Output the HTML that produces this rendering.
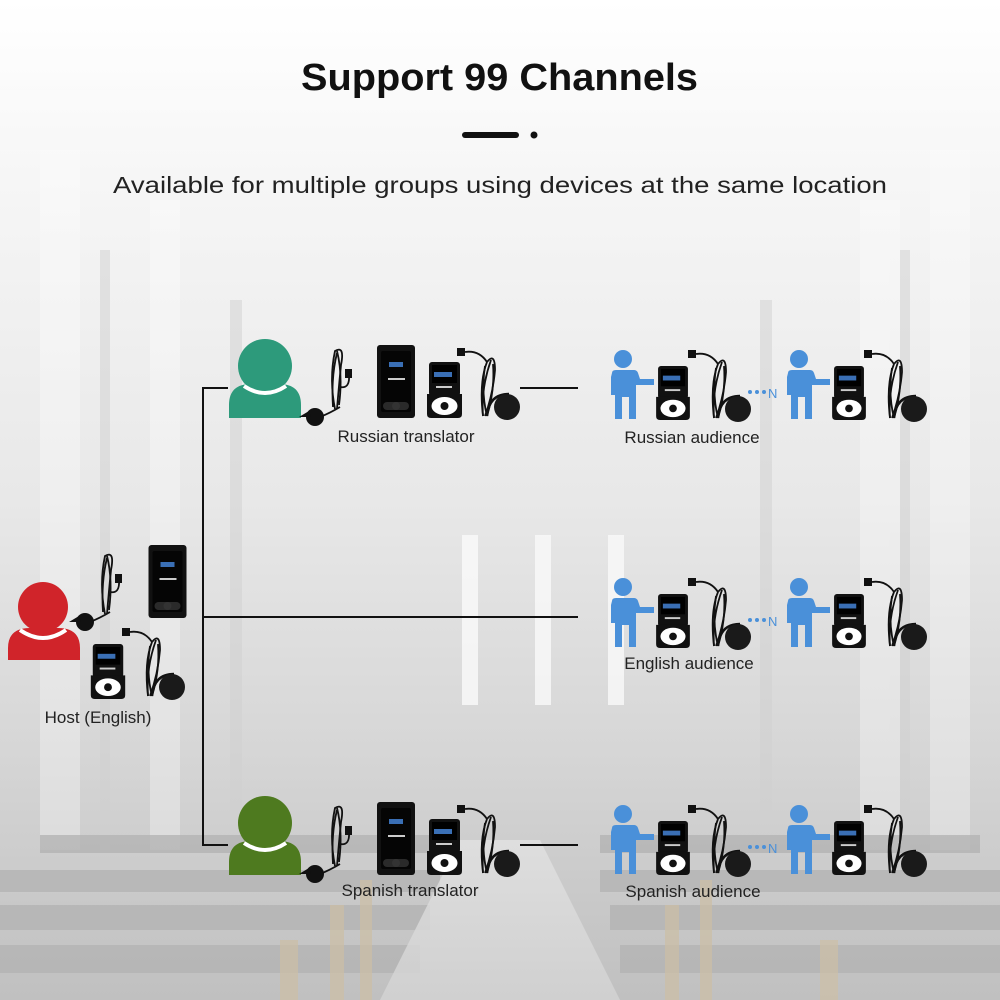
<!DOCTYPE html>
<html><head><meta charset="utf-8"><style>
html,body{margin:0;padding:0;width:1000px;height:1000px;overflow:hidden;background:#fff}
svg{display:block}
text{font-family:"Liberation Sans","DejaVu Sans",sans-serif}
</style></head><body>
<svg width="1000" height="1000" viewBox="0 0 1000 1000" xmlns="http://www.w3.org/2000/svg">
<defs>
<linearGradient id="bg" x1="0" y1="0" x2="0" y2="1">
<stop offset="0" stop-color="#ffffff"/>
<stop offset="0.2" stop-color="#f5f5f5"/>
<stop offset="0.5" stop-color="#e8e8e8"/>
<stop offset="0.75" stop-color="#d6d6d6"/>
<stop offset="1" stop-color="#c0c0c0"/>
</linearGradient>
<linearGradient id="aisle" x1="0" y1="0" x2="0" y2="1">
<stop offset="0" stop-color="#e2e2e2"/><stop offset="1" stop-color="#d4d4d4"/>
</linearGradient>
<symbol id="tx" viewBox="0 0 38 73" overflow="visible">
<rect x="0" y="0" width="38" height="73" rx="3" fill="#111"/>
<rect x="4" y="6" width="30" height="61" rx="2" fill="#050505"/>
<rect x="12" y="17" width="14" height="5" fill="#3a6fb5"/>
<rect x="11" y="33" width="17" height="2" fill="#ccc"/>
<rect x="6" y="57" width="26" height="8" rx="4" fill="#2a2a2a"/>
<circle cx="19" cy="61" r="4" fill="#333"/>
</symbol>
<symbol id="rx" viewBox="0 0 35 56" overflow="visible">
<rect x="2" y="0" width="31" height="34" rx="3" fill="#111"/>
<rect x="5" y="3" width="25" height="18" fill="#000"/>
<rect x="7" y="10" width="18" height="5" fill="#3a6fb5"/>
<rect x="9" y="24" width="16" height="2" fill="#ccc"/>
<path d="M0 32 H35 V52 Q35 56 31 56 H4 Q0 56 0 52 Z" fill="#111"/>
<ellipse cx="17.5" cy="44" rx="13" ry="9" fill="#fff"/>
<circle cx="17.5" cy="44" r="4" fill="#111"/>
</symbol>
<symbol id="ear" viewBox="0 0 60 70" overflow="visible">
<rect x="14" y="-2" width="8" height="8" fill="#111"/>
<path d="M22 2 q14 -2 22 10" fill="none" stroke="#111" stroke-width="1.8"/>
<g fill="none" stroke="#111" stroke-width="1.8">
<path d="M44 12 q8 -10 8 8 q-2 24 -10 46"/>
<path d="M44 12 q-8 20 -4 54"/>
<path d="M48 10 q-10 28 -8 56"/>
<path d="M50 14 q2 26 -6 52"/>
<path d="M42 16 q-4 26 2 50"/>
</g>
<path d="M44 66 q2 -22 22 -22" fill="none" stroke="#111" stroke-width="2.5"/>
<circle cx="64" cy="57" r="13" fill="#1a1a1a"/>
</symbol>
<symbol id="mic" viewBox="0 0 50 75" overflow="visible">
<g fill="none" stroke="#111" stroke-width="1.8">
<path d="M25 70 q10 -4 20 -10"/>
<path d="M40 62 q-6 -30 0 -58 q10 -6 6 14 q-2 20 -4 44"/>
<path d="M38 60 q-2 -30 4 -54"/>
<path d="M44 58 q4 -30 -2 -54"/>
<path d="M45 40 q10 2 9 -12"/>
</g>
<rect x="50" y="22" width="7" height="9" fill="#111"/>
<circle cx="20" cy="70" r="9" fill="#111"/>
<path d="M4 70 l10 -6 l2 6 z" fill="#111"/>
</symbol>
<symbol id="blue" viewBox="0 0 45 70" overflow="visible">
<circle cx="13" cy="10" r="9" fill="#4a90d9"/>
<path d="M2 24 Q2 21 6 21 H24 Q27 21 28 24 L30 30 H44 V36 H26 V70 H19 V48 H12 V70 H5 V46 L1 46 L1 28 Z" fill="#4a90d9"/>
</symbol>
</defs>

<rect width="1000" height="1000" fill="url(#bg)"/>
<g fill="#ffffff" opacity="0.3">
<rect x="40" y="150" width="40" height="700"/><rect x="150" y="200" width="30" height="650"/>
<rect x="860" y="200" width="40" height="650"/><rect x="930" y="150" width="40" height="700"/>
</g>
<g fill="#d0d0d0" opacity="0.5">
<rect x="100" y="250" width="10" height="600"/><rect x="230" y="300" width="12" height="520"/>
<rect x="760" y="300" width="12" height="520"/><rect x="900" y="250" width="10" height="600"/>
</g>
<g fill="#fafafa" opacity="0.8">
<rect x="462" y="535" width="16" height="170"/><rect x="535" y="535" width="16" height="170"/><rect x="608" y="535" width="16" height="170"/>
</g>
<g fill="#b4b4b4" opacity="0.8">
<rect x="0" y="870" width="440" height="22"/><rect x="0" y="905" width="430" height="25"/><rect x="0" y="945" width="420" height="28"/>
<rect x="600" y="870" width="400" height="22"/><rect x="610" y="905" width="390" height="25"/><rect x="620" y="945" width="380" height="28"/>
<rect x="40" y="835" width="400" height="18"/><rect x="600" y="835" width="380" height="18"/>
</g>
<g fill="#cdbfa5" opacity="0.7">
<rect x="330" y="905" width="14" height="95"/><rect x="360" y="880" width="12" height="120"/>
<rect x="665" y="905" width="14" height="95"/><rect x="700" y="880" width="12" height="120"/><rect x="820" y="940" width="18" height="60"/><rect x="280" y="940" width="18" height="60"/>
</g>
<path d="M460 840 L540 840 L620 1000 L380 1000 Z" fill="url(#aisle)" opacity="0.8"/>

<text x="301" y="90" textLength="397" lengthAdjust="spacingAndGlyphs" font-size="38" font-weight="bold" fill="#111">Support 99 Channels</text>
<rect x="462" y="132" width="57" height="6" rx="3" fill="#111"/>
<circle cx="534" cy="135" r="3.5" fill="#111"/>
<text x="113" y="193" textLength="774" lengthAdjust="spacingAndGlyphs" font-size="23" fill="#222">Available for multiple groups using devices at the same location</text>

<g stroke="#111" stroke-width="2" fill="none">
<path d="M228 388 H203 V845 H228"/>
<path d="M203 617 H578"/>
<path d="M520 388 H578"/>
<path d="M520 845 H578"/>
</g>

<circle cx="43" cy="607" r="25" fill="#d0242a"/>
<path d="M8 660 V648 Q8 628 30 628 H58 Q80 628 80 648 V660 Z" fill="#d0242a"/>
<path d="M20 630 Q43 646 66 630" fill="none" stroke="#fff" stroke-width="4"/>
<use href="#mic" x="65" y="552" width="50" height="75"/>
<use href="#tx" x="148" y="545" width="39" height="73"/>
<use href="#rx" x="90" y="644" width="36" height="55"/>
<use href="#ear" x="108" y="630" width="60" height="70"/>
<text x="98" y="723" text-anchor="middle" font-size="17" fill="#222">Host (English)</text>

<g>
<circle cx="265" cy="366" r="27" fill="#2d9a7b"/>
<path d="M229 418 V405 Q229 384 251 384 H279 Q301 384 301 405 V418 Z" fill="#2d9a7b"/>
<path d="M244 386 Q265 400 286 386" fill="none" stroke="#fff" stroke-width="4"/>
<use href="#mic" x="295" y="347" width="50" height="75"/>
<use href="#tx" x="377" y="345" width="38" height="73"/>
<use href="#rx" x="427" y="362" width="35" height="56"/>
<use href="#ear" x="443" y="350" width="60" height="70"/>
</g>
<text x="406" y="442" text-anchor="middle" font-size="17" fill="#222">Russian translator</text>
<g transform="translate(0,457)">
<circle cx="265" cy="366" r="27" fill="#4e7a1f"/>
<path d="M229 418 V405 Q229 384 251 384 H279 Q301 384 301 405 V418 Z" fill="#4e7a1f"/>
<path d="M244 386 Q265 400 286 386" fill="none" stroke="#fff" stroke-width="4"/>
<use href="#mic" x="295" y="347" width="50" height="75"/>
<use href="#tx" x="377" y="345" width="38" height="73"/>
<use href="#rx" x="427" y="362" width="35" height="56"/>
<use href="#ear" x="443" y="350" width="60" height="70"/>
</g>
<text x="410" y="896" text-anchor="middle" font-size="17" fill="#222">Spanish translator</text>

<g id="aud">
<use href="#blue" x="610" y="346" width="45" height="76"/>
<use href="#rx" x="656" y="366" width="34" height="54"/>
<use href="#ear" x="674" y="352" width="60" height="70"/>
<circle cx="750" cy="392" r="2" fill="#4a90d9"/><circle cx="757" cy="392" r="2" fill="#4a90d9"/><circle cx="764" cy="392" r="2" fill="#4a90d9"/>
<text x="768" y="398" font-size="13" fill="#4a90d9">N</text>
<use href="#blue" x="786" y="346" width="45" height="76"/>
<use href="#rx" x="832" y="366" width="34" height="54"/>
<use href="#ear" x="850" y="352" width="60" height="70"/>
</g>
<text x="692" y="443" text-anchor="middle" font-size="17" fill="#222">Russian audience</text>
<use href="#aud" x="0" y="228"/>
<text x="689" y="669" text-anchor="middle" font-size="17" fill="#222">English audience</text>
<use href="#aud" x="0" y="455"/>
<text x="693" y="897" text-anchor="middle" font-size="17" fill="#222">Spanish audience</text>
</svg>
</body></html>
